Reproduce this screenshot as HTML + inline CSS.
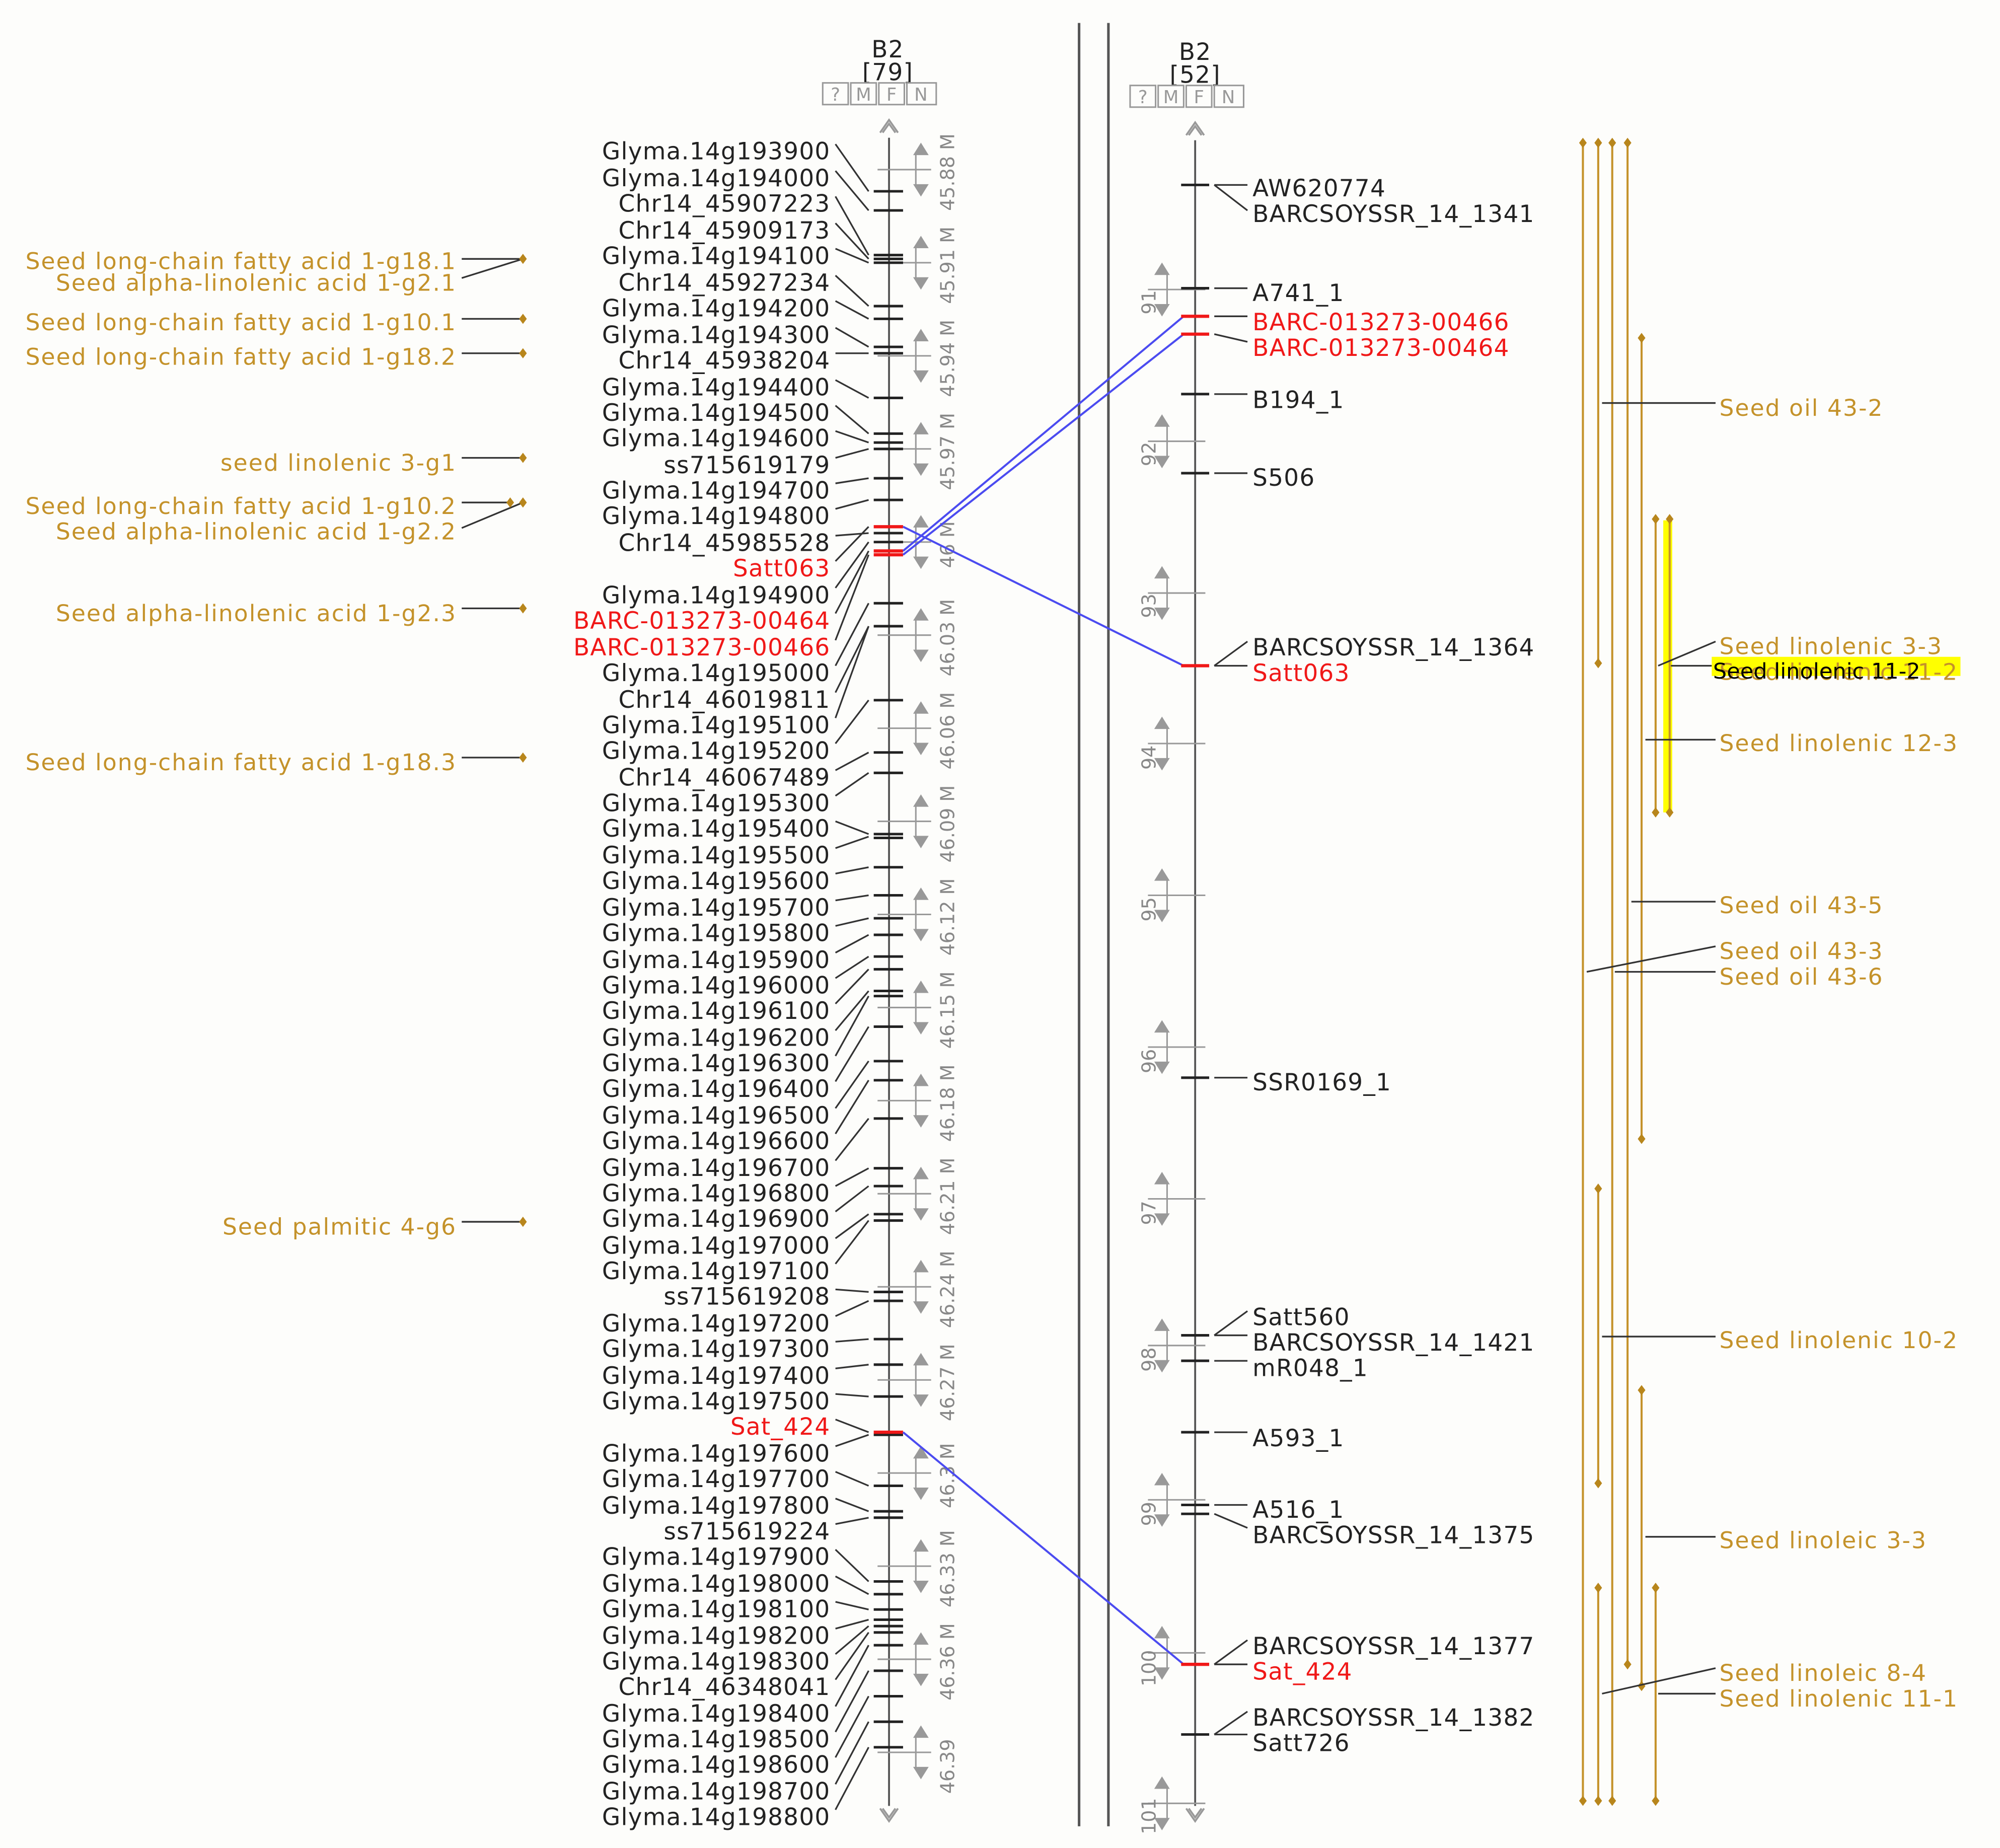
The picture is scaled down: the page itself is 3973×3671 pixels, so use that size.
<!DOCTYPE html>
<html><head><meta charset="utf-8"><style>
html,body{margin:0;padding:0;background:#fdfdfb}
svg{display:block}
text{font-family:"DejaVu Sans","Liberation Sans",sans-serif}
.k{fill:#222;font-size:18.5px;letter-spacing:0.5px}
.r{fill:#f01818;font-size:18.5px;letter-spacing:0.5px}
.g{fill:#c4922a;font-size:18px;letter-spacing:0.8px}
.s{fill:#888;font-size:15px}
</style></head><body>
<svg xmlns="http://www.w3.org/2000/svg" width="3973" height="3671" viewBox="0 0 1568 1449" preserveAspectRatio="none">
<rect width="1568" height="1449" fill="#fdfdfb"/>
<line x1="846" y1="18" x2="846" y2="1432" stroke="#555" stroke-width="2"/>
<line x1="869" y1="18" x2="869" y2="1432" stroke="#555" stroke-width="2"/>
<g text-anchor="middle">
<text class="k" x="696" y="45">B2</text><text class="k" x="696" y="63">[79]</text>
<text class="k" x="937" y="47">B2</text><text class="k" x="937" y="65">[52]</text>
</g>
<g fill="none" stroke="#999" stroke-width="1.2">
<rect x="645" y="65" width="20" height="17"/><rect x="667" y="65" width="20" height="17"/><rect x="689" y="65" width="20" height="17"/><rect x="711" y="65" width="23" height="17"/>
<rect x="886" y="67" width="20" height="17"/><rect x="908" y="67" width="20" height="17"/><rect x="930" y="67" width="20" height="17"/><rect x="952" y="67" width="23" height="17"/>
</g>
<g fill="#999" font-size="14" text-anchor="middle">
<text x="655" y="79">?</text><text x="677" y="79">M</text><text x="699" y="79">F</text><text x="722" y="79">N</text>
<text x="896" y="81">?</text><text x="918" y="81">M</text><text x="940" y="81">F</text><text x="963" y="81">N</text>
</g>
<g stroke="#555" stroke-width="1.5" fill="none">
<line x1="697" y1="108" x2="697" y2="1416"/>
<line x1="937" y1="110" x2="937" y2="1416"/>
</g>
<g stroke="#999" stroke-width="1.5" fill="none">
<path d="M690 104 L697 94 L704 104 M692 104 L697 97 L702 104"/>
<path d="M690 1418 L697 1428 L704 1418 M692 1418 L697 1425 L702 1418"/>
<path d="M930 106 L937 96 L944 106 M932 106 L937 99 L942 106"/>
<path d="M930 1418 L937 1428 L944 1418 M932 1418 L937 1425 L942 1418"/>
</g>
<g stroke="#999" stroke-width="1.2" fill="#999">
<g transform="translate(0,133)"><line x1="688" y1="0" x2="730" y2="0"/><line x1="718" y1="-12" x2="718" y2="12"/><path d="M717 -12 L722 -20 L727 -12Z M717 12 L722 20 L727 12Z"/></g>
<g transform="translate(0,206)"><line x1="688" y1="0" x2="730" y2="0"/><line x1="718" y1="-12" x2="718" y2="12"/><path d="M717 -12 L722 -20 L727 -12Z M717 12 L722 20 L727 12Z"/></g>
<g transform="translate(0,279)"><line x1="688" y1="0" x2="730" y2="0"/><line x1="718" y1="-12" x2="718" y2="12"/><path d="M717 -12 L722 -20 L727 -12Z M717 12 L722 20 L727 12Z"/></g>
<g transform="translate(0,352)"><line x1="688" y1="0" x2="730" y2="0"/><line x1="718" y1="-12" x2="718" y2="12"/><path d="M717 -12 L722 -20 L727 -12Z M717 12 L722 20 L727 12Z"/></g>
<g transform="translate(0,425)"><line x1="688" y1="0" x2="730" y2="0"/><line x1="718" y1="-12" x2="718" y2="12"/><path d="M717 -12 L722 -20 L727 -12Z M717 12 L722 20 L727 12Z"/></g>
<g transform="translate(0,498)"><line x1="688" y1="0" x2="730" y2="0"/><line x1="718" y1="-12" x2="718" y2="12"/><path d="M717 -12 L722 -20 L727 -12Z M717 12 L722 20 L727 12Z"/></g>
<g transform="translate(0,571)"><line x1="688" y1="0" x2="730" y2="0"/><line x1="718" y1="-12" x2="718" y2="12"/><path d="M717 -12 L722 -20 L727 -12Z M717 12 L722 20 L727 12Z"/></g>
<g transform="translate(0,644)"><line x1="688" y1="0" x2="730" y2="0"/><line x1="718" y1="-12" x2="718" y2="12"/><path d="M717 -12 L722 -20 L727 -12Z M717 12 L722 20 L727 12Z"/></g>
<g transform="translate(0,717)"><line x1="688" y1="0" x2="730" y2="0"/><line x1="718" y1="-12" x2="718" y2="12"/><path d="M717 -12 L722 -20 L727 -12Z M717 12 L722 20 L727 12Z"/></g>
<g transform="translate(0,790)"><line x1="688" y1="0" x2="730" y2="0"/><line x1="718" y1="-12" x2="718" y2="12"/><path d="M717 -12 L722 -20 L727 -12Z M717 12 L722 20 L727 12Z"/></g>
<g transform="translate(0,863)"><line x1="688" y1="0" x2="730" y2="0"/><line x1="718" y1="-12" x2="718" y2="12"/><path d="M717 -12 L722 -20 L727 -12Z M717 12 L722 20 L727 12Z"/></g>
<g transform="translate(0,936)"><line x1="688" y1="0" x2="730" y2="0"/><line x1="718" y1="-12" x2="718" y2="12"/><path d="M717 -12 L722 -20 L727 -12Z M717 12 L722 20 L727 12Z"/></g>
<g transform="translate(0,1009)"><line x1="688" y1="0" x2="730" y2="0"/><line x1="718" y1="-12" x2="718" y2="12"/><path d="M717 -12 L722 -20 L727 -12Z M717 12 L722 20 L727 12Z"/></g>
<g transform="translate(0,1082)"><line x1="688" y1="0" x2="730" y2="0"/><line x1="718" y1="-12" x2="718" y2="12"/><path d="M717 -12 L722 -20 L727 -12Z M717 12 L722 20 L727 12Z"/></g>
<g transform="translate(0,1155)"><line x1="688" y1="0" x2="730" y2="0"/><line x1="718" y1="-12" x2="718" y2="12"/><path d="M717 -12 L722 -20 L727 -12Z M717 12 L722 20 L727 12Z"/></g>
<g transform="translate(0,1228)"><line x1="688" y1="0" x2="730" y2="0"/><line x1="718" y1="-12" x2="718" y2="12"/><path d="M717 -12 L722 -20 L727 -12Z M717 12 L722 20 L727 12Z"/></g>
<g transform="translate(0,1301)"><line x1="688" y1="0" x2="730" y2="0"/><line x1="718" y1="-12" x2="718" y2="12"/><path d="M717 -12 L722 -20 L727 -12Z M717 12 L722 20 L727 12Z"/></g>
<g transform="translate(0,1374)"><line x1="688" y1="0" x2="730" y2="0"/><line x1="718" y1="-12" x2="718" y2="12"/><path d="M717 -12 L722 -20 L727 -12Z M717 12 L722 20 L727 12Z"/></g>
</g>
<g class="s" text-anchor="middle">
<text transform="translate(748,135) rotate(-90)">45.88 M</text>
<text transform="translate(748,208) rotate(-90)">45.91 M</text>
<text transform="translate(748,281) rotate(-90)">45.94 M</text>
<text transform="translate(748,354) rotate(-90)">45.97 M</text>
<text transform="translate(748,427) rotate(-90)">46 M</text>
<text transform="translate(748,500) rotate(-90)">46.03 M</text>
<text transform="translate(748,573) rotate(-90)">46.06 M</text>
<text transform="translate(748,646) rotate(-90)">46.09 M</text>
<text transform="translate(748,719) rotate(-90)">46.12 M</text>
<text transform="translate(748,792) rotate(-90)">46.15 M</text>
<text transform="translate(748,865) rotate(-90)">46.18 M</text>
<text transform="translate(748,938) rotate(-90)">46.21 M</text>
<text transform="translate(748,1011) rotate(-90)">46.24 M</text>
<text transform="translate(748,1084) rotate(-90)">46.27 M</text>
<text transform="translate(748,1157) rotate(-90)">46.3 M</text>
<text transform="translate(748,1230) rotate(-90)">46.33 M</text>
<text transform="translate(748,1303) rotate(-90)">46.36 M</text>
<text transform="translate(748,1385) rotate(-90)">46.39</text>
</g>
<g stroke="#999" stroke-width="1.2" fill="#999">
<g transform="translate(0,227)"><line x1="900" y1="0" x2="945" y2="0"/><line x1="915" y1="-12" x2="915" y2="12"/><path d="M906 -12 L911 -20 L916 -12Z M906 12 L911 20 L916 12Z"/></g>
<g transform="translate(0,346)"><line x1="900" y1="0" x2="945" y2="0"/><line x1="915" y1="-12" x2="915" y2="12"/><path d="M906 -12 L911 -20 L916 -12Z M906 12 L911 20 L916 12Z"/></g>
<g transform="translate(0,465)"><line x1="900" y1="0" x2="945" y2="0"/><line x1="915" y1="-12" x2="915" y2="12"/><path d="M906 -12 L911 -20 L916 -12Z M906 12 L911 20 L916 12Z"/></g>
<g transform="translate(0,583)"><line x1="900" y1="0" x2="945" y2="0"/><line x1="915" y1="-12" x2="915" y2="12"/><path d="M906 -12 L911 -20 L916 -12Z M906 12 L911 20 L916 12Z"/></g>
<g transform="translate(0,702)"><line x1="900" y1="0" x2="945" y2="0"/><line x1="915" y1="-12" x2="915" y2="12"/><path d="M906 -12 L911 -20 L916 -12Z M906 12 L911 20 L916 12Z"/></g>
<g transform="translate(0,821)"><line x1="900" y1="0" x2="945" y2="0"/><line x1="915" y1="-12" x2="915" y2="12"/><path d="M906 -12 L911 -20 L916 -12Z M906 12 L911 20 L916 12Z"/></g>
<g transform="translate(0,940)"><line x1="900" y1="0" x2="945" y2="0"/><line x1="915" y1="-12" x2="915" y2="12"/><path d="M906 -12 L911 -20 L916 -12Z M906 12 L911 20 L916 12Z"/></g>
<g transform="translate(0,1055)"><line x1="900" y1="0" x2="945" y2="0"/><line x1="915" y1="-12" x2="915" y2="12"/><path d="M906 -12 L911 -20 L916 -12Z M906 12 L911 20 L916 12Z"/></g>
<g transform="translate(0,1176)"><line x1="900" y1="0" x2="945" y2="0"/><line x1="915" y1="-12" x2="915" y2="12"/><path d="M906 -12 L911 -20 L916 -12Z M906 12 L911 20 L916 12Z"/></g>
<g transform="translate(0,1296)"><line x1="900" y1="0" x2="945" y2="0"/><line x1="915" y1="-12" x2="915" y2="12"/><path d="M906 -12 L911 -20 L916 -12Z M906 12 L911 20 L916 12Z"/></g>
<g transform="translate(0,1414)"><line x1="900" y1="0" x2="945" y2="0"/><line x1="915" y1="-12" x2="915" y2="12"/><path d="M906 -12 L911 -20 L916 -12Z M906 12 L911 20 L916 12Z"/></g>
</g>
<g class="s" text-anchor="middle">
<text transform="translate(906,237) rotate(-90)">91</text>
<text transform="translate(906,356) rotate(-90)">92</text>
<text transform="translate(906,475) rotate(-90)">93</text>
<text transform="translate(906,594) rotate(-90)">94</text>
<text transform="translate(906,713) rotate(-90)">95</text>
<text transform="translate(906,832) rotate(-90)">96</text>
<text transform="translate(906,951) rotate(-90)">97</text>
<text transform="translate(906,1066) rotate(-90)">98</text>
<text transform="translate(906,1187) rotate(-90)">99</text>
<text transform="translate(906,1308) rotate(-90)">100</text>
<text transform="translate(906,1424) rotate(-90)">101</text>
</g>
<g stroke="#333" stroke-width="1.3" fill="none">
<path d="M655 113L681 150M655 134L681 165M655 154L681 200M655 175L681 203M655 195L681 206M655 216L681 240M655 236L681 250M655 257L681 272M655 277L681 277M655 298L681 312M655 318L681 340M655 338L681 347M655 359L681 352M655 379L681 375M655 399L681 392M655 420L681 418M655 440L681 413M655 461L681 425M655 481L681 432M655 502L681 435M655 522L681 473M655 543L681 491M655 563L681 491M655 583L681 549M655 604L681 590M655 624L681 606M655 644L681 654M655 665L681 656M655 685L681 680M655 706L681 702M655 726L681 720M655 747L681 733M655 767L681 750M655 787L681 760M655 808L681 777M655 828L681 781M655 848L681 805M655 869L681 832M655 889L681 847M655 910L681 877M655 930L681 916M655 950L681 930M655 971L681 952M655 991L681 957M655 1011L681 1013M655 1032L681 1020M655 1052L681 1050M655 1073L681 1070M655 1093L681 1095M655 1113L681 1123M655 1134L681 1125M655 1154L681 1165M655 1175L681 1185M655 1195L681 1190M655 1215L681 1240M655 1236L681 1250M655 1256L681 1262M655 1277L681 1270M655 1297L681 1275M655 1317L681 1280M655 1338L681 1290M655 1358L681 1310M655 1378L681 1330M655 1399L681 1350M655 1419L681 1370"/>
</g>
<g stroke="#222" stroke-width="2" fill="none">
<path d="M685 150h23M685 165h23M685 200h23M685 203h23M685 206h23M685 240h23M685 250h23M685 272h23M685 277h23M685 312h23M685 340h23M685 347h23M685 352h23M685 375h23M685 392h23M685 418h23M685 425h23M685 473h23M685 491h23M685 549h23M685 590h23M685 606h23M685 654h23M685 657h23M685 680h23M685 702h23M685 720h23M685 733h23M685 750h23M685 760h23M685 777h23M685 781h23M685 805h23M685 832h23M685 847h23M685 877h23M685 916h23M685 930h23M685 952h23M685 957h23M685 1013h23M685 1020h23M685 1050h23M685 1070h23M685 1095h23M685 1125h23M685 1165h23M685 1185h23M685 1190h23M685 1240h23M685 1250h23M685 1262h23M685 1270h23M685 1275h23M685 1280h23M685 1290h23M685 1310h23M685 1330h23M685 1350h23M685 1370h23"/>
</g>
<g stroke="#f01818" stroke-width="2.5" fill="none"><path d="M685 413h23M685 432h23M685 435h23M685 1123h23"/></g>
<g text-anchor="end">
<text class="k" x="651" y="125">Glyma.14g193900</text>
<text class="k" x="651" y="146">Glyma.14g194000</text>
<text class="k" x="651" y="166">Chr14_45907223</text>
<text class="k" x="651" y="187">Chr14_45909173</text>
<text class="k" x="651" y="207">Glyma.14g194100</text>
<text class="k" x="651" y="228">Chr14_45927234</text>
<text class="k" x="651" y="248">Glyma.14g194200</text>
<text class="k" x="651" y="269">Glyma.14g194300</text>
<text class="k" x="651" y="289">Chr14_45938204</text>
<text class="k" x="651" y="310">Glyma.14g194400</text>
<text class="k" x="651" y="330">Glyma.14g194500</text>
<text class="k" x="651" y="350">Glyma.14g194600</text>
<text class="k" x="651" y="371">ss715619179</text>
<text class="k" x="651" y="391">Glyma.14g194700</text>
<text class="k" x="651" y="411">Glyma.14g194800</text>
<text class="k" x="651" y="432">Chr14_45985528</text>
<text class="r" x="651" y="452">Satt063</text>
<text class="k" x="651" y="473">Glyma.14g194900</text>
<text class="r" x="651" y="493">BARC-013273-00464</text>
<text class="r" x="651" y="514">BARC-013273-00466</text>
<text class="k" x="651" y="534">Glyma.14g195000</text>
<text class="k" x="651" y="555">Chr14_46019811</text>
<text class="k" x="651" y="575">Glyma.14g195100</text>
<text class="k" x="651" y="595">Glyma.14g195200</text>
<text class="k" x="651" y="616">Chr14_46067489</text>
<text class="k" x="651" y="636">Glyma.14g195300</text>
<text class="k" x="651" y="656">Glyma.14g195400</text>
<text class="k" x="651" y="677">Glyma.14g195500</text>
<text class="k" x="651" y="697">Glyma.14g195600</text>
<text class="k" x="651" y="718">Glyma.14g195700</text>
<text class="k" x="651" y="738">Glyma.14g195800</text>
<text class="k" x="651" y="759">Glyma.14g195900</text>
<text class="k" x="651" y="779">Glyma.14g196000</text>
<text class="k" x="651" y="799">Glyma.14g196100</text>
<text class="k" x="651" y="820">Glyma.14g196200</text>
<text class="k" x="651" y="840">Glyma.14g196300</text>
<text class="k" x="651" y="860">Glyma.14g196400</text>
<text class="k" x="651" y="881">Glyma.14g196500</text>
<text class="k" x="651" y="901">Glyma.14g196600</text>
<text class="k" x="651" y="922">Glyma.14g196700</text>
<text class="k" x="651" y="942">Glyma.14g196800</text>
<text class="k" x="651" y="962">Glyma.14g196900</text>
<text class="k" x="651" y="983">Glyma.14g197000</text>
<text class="k" x="651" y="1003">Glyma.14g197100</text>
<text class="k" x="651" y="1023">ss715619208</text>
<text class="k" x="651" y="1044">Glyma.14g197200</text>
<text class="k" x="651" y="1064">Glyma.14g197300</text>
<text class="k" x="651" y="1085">Glyma.14g197400</text>
<text class="k" x="651" y="1105">Glyma.14g197500</text>
<text class="r" x="651" y="1125">Sat_424</text>
<text class="k" x="651" y="1146">Glyma.14g197600</text>
<text class="k" x="651" y="1166">Glyma.14g197700</text>
<text class="k" x="651" y="1187">Glyma.14g197800</text>
<text class="k" x="651" y="1207">ss715619224</text>
<text class="k" x="651" y="1227">Glyma.14g197900</text>
<text class="k" x="651" y="1248">Glyma.14g198000</text>
<text class="k" x="651" y="1268">Glyma.14g198100</text>
<text class="k" x="651" y="1289">Glyma.14g198200</text>
<text class="k" x="651" y="1309">Glyma.14g198300</text>
<text class="k" x="651" y="1329">Chr14_46348041</text>
<text class="k" x="651" y="1350">Glyma.14g198400</text>
<text class="k" x="651" y="1370">Glyma.14g198500</text>
<text class="k" x="651" y="1390">Glyma.14g198600</text>
<text class="k" x="651" y="1411">Glyma.14g198700</text>
<text class="k" x="651" y="1431">Glyma.14g198800</text>
</g>
<g stroke="#4b4bf0" stroke-width="1.6" fill="none">
<path d="M708 413 L928 522"/>
<path d="M708 432 L928 248"/>
<path d="M708 435 L928 262"/>
<path d="M708 1123 L928 1305"/>
</g>
<g stroke="#222" stroke-width="2" fill="none"><path d="M926 145h22M926 226h22M926 309h22M926 371h22M926 845h22M926 1047h22M926 1067h22M926 1123h22M926 1180h22M926 1187h22M926 1360h22"/></g>
<g stroke="#f01818" stroke-width="2.5" fill="none"><path d="M926 248h22M926 262h22M926 522h22M926 1305h22"/></g>
<g stroke="#333" stroke-width="1.3" fill="none">
<path d="M952 145H978M952 145L978 165M952 226H978M952 248H978M952 262L978 268M952 309H978M952 371H978M952 522L978 503M952 522H978M952 845H978M952 1047L978 1028M952 1047H978M952 1067H978M952 1123H978M952 1180H978M952 1187L978 1198M952 1305L978 1286M952 1305H978M952 1360L978 1342M952 1360H978"/>
</g>
<g>
<text class="k" x="982" y="154">AW620774</text>
<text class="k" x="982" y="174">BARCSOYSSR_14_1341</text>
<text class="k" x="982" y="236">A741_1</text>
<text class="r" x="982" y="259">BARC-013273-00466</text>
<text class="r" x="982" y="279">BARC-013273-00464</text>
<text class="k" x="982" y="320">B194_1</text>
<text class="k" x="982" y="381">S506</text>
<text class="k" x="982" y="514">BARCSOYSSR_14_1364</text>
<text class="r" x="982" y="534">Satt063</text>
<text class="k" x="982" y="855">SSR0169_1</text>
<text class="k" x="982" y="1039">Satt560</text>
<text class="k" x="982" y="1059">BARCSOYSSR_14_1421</text>
<text class="k" x="982" y="1079">mR048_1</text>
<text class="k" x="982" y="1134">A593_1</text>
<text class="k" x="982" y="1190">A516_1</text>
<text class="k" x="982" y="1210">BARCSOYSSR_14_1375</text>
<text class="k" x="982" y="1297">BARCSOYSSR_14_1377</text>
<text class="r" x="982" y="1317">Sat_424</text>
<text class="k" x="982" y="1353">BARCSOYSSR_14_1382</text>
<text class="k" x="982" y="1373">Satt726</text>
</g>
<g stroke="#333" stroke-width="1.3" fill="none">
<path d="M362 203H410M362 218L410 203M362 250H410M362 277H410M362 359H410M362 394H400M362 414L410 394M362 477H410M362 594H410M362 958H410"/>
</g>
<g fill="#b8861c">
<path d="M410 199l3 4-3 4-3-4z M410 246l3 4-3 4-3-4z M410 273l3 4-3 4-3-4z M410 355l3 4-3 4-3-4z M400 390l3 4-3 4-3-4z M410 390l3 4-3 4-3-4z M410 473l3 4-3 4-3-4z M410 590l3 4-3 4-3-4z M410 954l3 4-3 4-3-4z"/>
</g>
<g text-anchor="end">
<text class="g" x="358" y="211">Seed long-chain fatty acid 1-g18.1</text>
<text class="g" x="358" y="228">Seed alpha-linolenic acid 1-g2.1</text>
<text class="g" x="358" y="259">Seed long-chain fatty acid 1-g10.1</text>
<text class="g" x="358" y="286">Seed long-chain fatty acid 1-g18.2</text>
<text class="g" x="358" y="369">seed linolenic 3-g1</text>
<text class="g" x="358" y="403">Seed long-chain fatty acid 1-g10.2</text>
<text class="g" x="358" y="423">Seed alpha-linolenic acid 1-g2.2</text>
<text class="g" x="358" y="487">Seed alpha-linolenic acid 1-g2.3</text>
<text class="g" x="358" y="604">Seed long-chain fatty acid 1-g18.3</text>
<text class="g" x="358" y="968">Seed palmitic 4-g6</text>
</g>
<rect x="1304" y="408" width="7" height="229" fill="#ffff00"/>
<g stroke="#c4922a" stroke-width="1.6" fill="none">
<path d="M1241 112V1412M1253 112V520M1264 112V1412M1276 112V1305M1287 265V893M1298 407V637M1309 407V637M1253 932V1163M1287 1090V1322M1253 1245V1412M1298 1245V1412"/>
</g>
<g fill="#b8861c">
<path d="M1241 108l3 4-3 4-3-4zM1253 108l3 4-3 4-3-4zM1264 108l3 4-3 4-3-4zM1276 108l3 4-3 4-3-4zM1241 1408l3 4-3 4-3-4zM1253 1408l3 4-3 4-3-4zM1264 1408l3 4-3 4-3-4zM1298 1408l3 4-3 4-3-4zM1253 516l3 4-3 4-3-4zM1276 1301l3 4-3 4-3-4zM1287 261l3 4-3 4-3-4zM1287 889l3 4-3 4-3-4zM1298 403l3 4-3 4-3-4zM1309 403l3 4-3 4-3-4zM1298 633l3 4-3 4-3-4zM1309 633l3 4-3 4-3-4zM1253 928l3 4-3 4-3-4zM1253 1159l3 4-3 4-3-4zM1287 1086l3 4-3 4-3-4zM1287 1318l3 4-3 4-3-4zM1253 1241l3 4-3 4-3-4zM1298 1241l3 4-3 4-3-4z"/>
</g>
<g stroke="#333" stroke-width="1.3" fill="none">
<path d="M1256 316H1345M1300 522L1345 503M1310 522H1342M1290 580H1345M1279 707H1345M1244 762L1345 742M1266 762H1345M1256 1048H1345M1290 1205H1345M1256 1328L1345 1308M1300 1328H1345"/>
</g>
<rect x="1342" y="515" width="195" height="15" fill="#ffff00"/>
<g>
<text class="g" x="1348" y="326">Seed oil 43-2</text>
<text class="g" x="1348" y="513">Seed linolenic 3-3</text>
<text class="g" x="1348" y="533">Seed linolenic 11-2</text>
<text x="1343" y="532" fill="#000" font-family="Liberation Sans,sans-serif" font-size="17">Seed linolenic 11-2</text>
<text class="g" x="1348" y="589">Seed linolenic 12-3</text>
<text class="g" x="1348" y="716">Seed oil 43-5</text>
<text class="g" x="1348" y="752">Seed oil 43-3</text>
<text class="g" x="1348" y="772">Seed oil 43-6</text>
<text class="g" x="1348" y="1057">Seed linolenic 10-2</text>
<text class="g" x="1348" y="1214">Seed linoleic 3-3</text>
<text class="g" x="1348" y="1318">Seed linoleic 8-4</text>
<text class="g" x="1348" y="1338">Seed linolenic 11-1</text>
</g>
</svg>
</body></html>
